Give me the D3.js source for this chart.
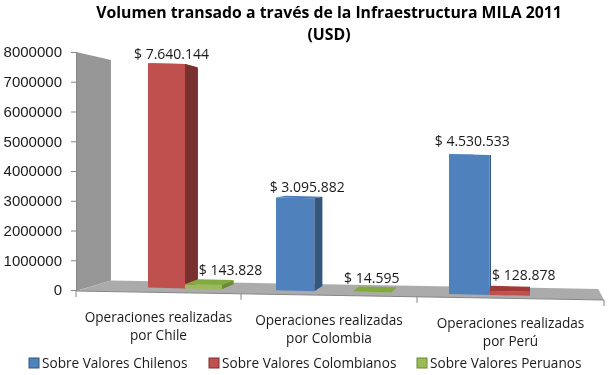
<!DOCTYPE html>
<html lang="es">
<head>
  <meta charset="UTF-8">
  <title>Volumen transado a través de la Infraestructura MILA 2011</title>
  <script src="https://d3js.org/d3.v7.min.js"></script>
  <style>
    html, body {
      margin: 0;
      background: #fff;
    }

    svg {
      display: block;
      font-family: "Open Sans", sans-serif;
      fill: #1a1a1a;
      filter: blur(0.3px);
    }

    .title {
      font-size: 15.8px;
      font-weight: 700;
      text-anchor: middle;
      fill: #000;
    }

    .value {
      font-size: 14px;
    }

    .category {
      font-size: 13.6px;
      text-anchor: middle;
    }

    .legend {
      font-size: 13.6px;
    }

    .y-axis text {
      font-size: 15px;
      fill: #1a1a1a;
    }
  </style>
</head>
<body>

<svg width="611" height="375"></svg>

<script>
  const categories = [
    ["Operaciones realizadas", "por Chile"],
    ["Operaciones realizadas", "por Colombia"],
    ["Operaciones realizadas", "por Perú"]
  ];
  const seriesNames = ["Sobre Valores Chilenos", "Sobre Valores Colombianos", "Sobre Valores Peruanos"];
  const chilenos = [null, 3095882, 4530533];
  const colombianos = [7640144, null, 128878];
  const peruanos = [143828, 14595, null];
  const yTicks = [0, 1000000, 2000000, 3000000, 4000000, 5000000, 6000000, 7000000, 8000000];
  const valueLabels = [
    [null, "$ 3.095.882", "$ 4.530.533"],
    ["$ 7.640.144", null, "$ 128.878"],
    ["$ 143.828", "$ 14.595", null]
  ];

  const seriesValues = [chilenos, colombianos, peruanos];
  const frontColors = ["#4f81bd", "#c0504d", "#9bbb59"];
  const sideColors = ["#34567f", "#7a302e", "#6a8a34"];
  const topColors = ["#4a7ab5", "#a03a37", "#82aa3e"];

  // fake 3d: everything recedes towards one vanishing point
  const vp = [530, 156];
  const barDepth = 0.0375;
  const wallDepth = 0.077;
  const recede = (p, k) => [p[0] + (vp[0] - p[0]) * k, p[1] + (vp[1] - p[1]) * k];

  const svg = d3.select("svg");

  const y = d3.scaleLinear().domain([0, 8000000]).range([290, 52]);
  const catX = d3.scaleLinear().domain([0, 1, 2, 3]).range([76, 241, 417, 604]);
  const floorFront = d3.scaleLinear().domain([76, 604]).range([291, 300]);
  const groupStart = d3.scaleLinear().domain([0, 1, 2]).range([111, 276, 449]);
  const slotWidth = d3.scaleLinear().domain([0, 1, 2]).range([37, 38.3, 40.5]);
  const barBase = d3.scaleLinear().domain([166, 470]).range([288, 294.5]);
  // bars nearer the right end of the floor come out a bit taller
  const barPixels = x => d3.scaleLinear().domain([0, 8000000]).range([0, 235 + (x - 166) * 0.04]);

  const poly = pts => pts.map(p => p.join(",")).join(" ");

  // Wall and floor
  const wallTop = [76, y(8000000)];
  const wallBottom = [76, floorFront(76)];
  const frontRight = [604, floorFront(604)];

  svg.append("polygon")
    .attr("points", poly([wallTop, recede(wallTop, wallDepth), recede(wallBottom, wallDepth), wallBottom]))
    .attr("fill", "#969696");

  svg.append("polygon")
    .attr("points", poly([wallBottom, recede(wallBottom, wallDepth), recede(frontRight, wallDepth), frontRight]))
    .attr("fill", "#ababab");

  // Axes
  const yAxis = svg.append("g")
    .attr("class", "y-axis")
    .attr("transform", "translate(76,0)")
    .call(d3.axisLeft(y).tickValues(yTicks).tickSize(5).tickPadding(9).tickFormat(d3.format("d")));
  yAxis.selectAll("line, path").attr("stroke", "#868686");
  yAxis.selectAll("text").attr("font-family", null);

  svg.append("line")
    .attr("x1", 76).attr("x2", 604)
    .attr("y1", floorFront(76)).attr("y2", floorFront(604))
    .attr("stroke", "#868686");

  svg.selectAll(".cat-tick")
    .data(d3.range(4))
    .enter()
    .append("line")
    .attr("class", "cat-tick")
    .attr("x1", d => catX(d))
    .attr("x2", d => catX(d))
    .attr("y1", d => floorFront(catX(d)))
    .attr("y2", d => floorFront(catX(d)) + 6)
    .attr("stroke", "#868686");

  // Bars, left to right
  const bars = [];
  categories.forEach((c, g) => {
    seriesValues.forEach((values, s) => {
      if (values[g] === null) return;
      const x0 = groupStart(g) + s * slotWidth(g);
      const x1 = x0 + slotWidth(g);
      const h = barPixels((x0 + x1) / 2)(values[g]);
      bars.push({g, s, x0, x1, b0: barBase(x0), b1: barBase(x1), h});
    });
  });

  const barG = svg.selectAll(".bar")
    .data(bars)
    .enter()
    .append("g")
    .attr("class", "bar");

  barG.append("polygon")
    .attr("fill", d => topColors[d.s])
    .attr("points", d => {
      const a = [d.x0, d.b0 - d.h], b = [d.x1, d.b1 - d.h];
      return poly([a, b, recede(b, barDepth), recede(a, barDepth)]);
    });

  barG.append("polygon")
    .attr("fill", d => sideColors[d.s])
    .attr("points", d => {
      const a = [d.x1, d.b1 - d.h], b = [d.x1, d.b1];
      return poly([a, b, recede(b, barDepth), recede(a, barDepth)]);
    });

  barG.append("polygon")
    .attr("fill", d => frontColors[d.s])
    .attr("points", d => poly([[d.x0, d.b0 - d.h], [d.x1, d.b1 - d.h], [d.x1, d.b1], [d.x0, d.b0]]));

  // Value labels sit wherever they fit next to the bar
  const labelNudge = {
    "0-1": [5, -4.5], "0-2": [27, -9.5],
    "1-0": [12, -6], "1-2": [0, -9],
    "2-0": [3, -8.5], "2-1": [14, -11]
  };

  svg.selectAll(".value")
    .data(bars)
    .enter()
    .append("text")
    .attr("class", "value")
    .attr("text-anchor", "middle")
    .attr("x", d => (d.x0 + d.x1) / 2 + labelNudge[d.g + "-" + d.s][0])
    .attr("y", d => (d.b0 + d.b1) / 2 - d.h + labelNudge[d.g + "-" + d.s][1])
    .text(d => valueLabels[d.s][d.g]);

  // Category labels follow the slant of the floor
  categories.forEach((lines, g) => {
    const cx = (catX(g) + catX(g + 1)) / 2;
    svg.selectAll(null)
      .data(lines)
      .enter()
      .append("text")
      .attr("class", "category")
      .attr("x", cx)
      .attr("y", (d, i) => floorFront(cx) + 30 + i * 18)
      .text(d => d);
  });

  // Legend
  const legendX = d3.scaleOrdinal().domain(seriesNames).range([29, 209, 417]);

  svg.selectAll(".swatch")
    .data(seriesNames)
    .enter()
    .append("rect")
    .attr("class", "swatch")
    .attr("x", d => legendX(d))
    .attr("y", 358)
    .attr("width", 10)
    .attr("height", 10)
    .attr("fill", (d, i) => frontColors[i])
    .attr("stroke", (d, i) => sideColors[i]);

  svg.selectAll(".legend")
    .data(seriesNames)
    .enter()
    .append("text")
    .attr("class", "legend")
    .attr("x", d => legendX(d) + 13)
    .attr("y", 368)
    .text(d => d);

  // Title
  svg.append("text")
    .attr("class", "title")
    .attr("x", 329)
    .attr("y", 17.5)
    .text("Volumen transado a través de la Infraestructura MILA 2011");

  svg.append("text")
    .attr("class", "title")
    .attr("x", 329)
    .attr("y", 40)
    .text("(USD)");
</script>

</body>
</html>
